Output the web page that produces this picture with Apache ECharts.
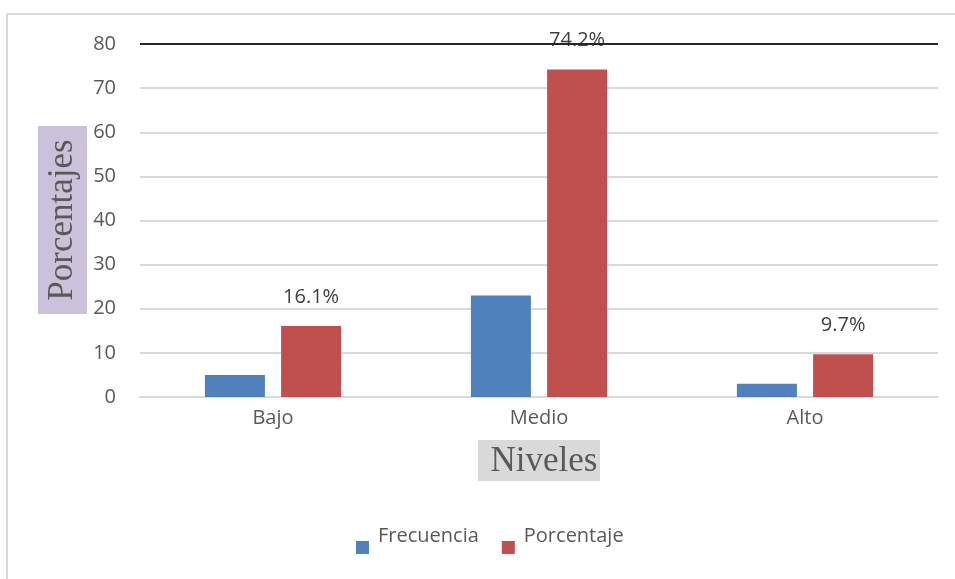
<!DOCTYPE html>
<html>
<head>
<meta charset="utf-8">
<script src="https://cdn.jsdelivr.net/npm/echarts@6/dist/echarts.min.js"></script>
<style>
html,body{margin:0;padding:0;background:#fff;}
#chart{width:955px;height:579px;}
</style>
</head>
<body>
<div id="chart"></div>
<script>
const categories = ['Bajo', 'Medio', 'Alto'];
const frecuencia = [5, 23, 3];
const porcentaje = [16.1, 74.2, 9.7];
const yTicks = { min: 0, max: 80, interval: 10 };
const seriesNames = ['Frecuencia', 'Porcentaje'];
const yTitle = 'Porcentajes';
const xTitle = 'Niveles';

const font = '"Open Sans", sans-serif';
const chart = echarts.init(document.getElementById('chart'));
chart.setOption({
  backgroundColor: '#fff',
  animation: false,
  grid: { left: 140, right: 17, top: 44, bottom: 182 },
  xAxis: {
    type: 'category',
    data: categories,
    axisTick: { show: false },
    axisLine: { lineStyle: { color: '#d9d9d9', width: 2 } },
    axisLabel: { color: '#595959', fontSize: 20, fontFamily: font, margin: 11 }
  },
  yAxis: {
    type: 'value',
    min: yTicks.min, max: yTicks.max, interval: yTicks.interval,
    axisLine: { show: false },
    axisTick: { show: false },
    axisLabel: { color: '#595959', fontSize: 20, fontFamily: font, margin: 24 },
    splitLine: { lineStyle: { width: 2, color: '#d9d9d9' } }
  },
  legend: {
    data: seriesNames,
    bottom: 20,
    left: 351,
    itemWidth: 13,
    itemHeight: 13,
    itemGap: 23,
    icon: 'rect',
    formatter: '{a|{name}}',
    textStyle: {
      color: '#595959', fontSize: 20, fontFamily: font,
      rich: { a: { color: '#595959', fontSize: 20, fontFamily: font, padding: [0, 0, 22, 4] } }
    }
  },
  series: [
    {
      name: seriesNames[0],
      type: 'bar',
      data: frecuencia,
      barWidth: 60,
      barGap: '27%',
      itemStyle: { color: '#4f81bd' }
    },
    {
      name: seriesNames[1],
      type: 'bar',
      data: porcentaje,
      barWidth: 60,
      itemStyle: { color: '#c0504d' },
      label: {
        show: true,
        position: 'top',
        distance: 19,
        color: '#404040',
        fontSize: 20,
        fontFamily: font,
        formatter: function (p) { return p.value.toFixed(1) + '%'; }
      },
      markLine: {
        silent: true,
        symbol: 'none',
        label: { show: false },
        lineStyle: { color: '#262626', width: 2, type: 'solid' },
        data: [{ yAxis: yTicks.max }]
      }
    }
  ],
  graphic: [
    { type: 'line', shape: { x1: 7, y1: 14, x2: 955, y2: 14 }, style: { stroke: '#d9d9d9', lineWidth: 2 } },
    { type: 'line', shape: { x1: 7, y1: 14, x2: 7, y2: 579 }, style: { stroke: '#d9d9d9', lineWidth: 2 } },
    { type: 'rect', shape: { x: 38, y: 126, width: 49, height: 188 }, style: { fill: '#ccc1da' } },
    {
      type: 'text', x: 63, y: 220, rotation: Math.PI / 2,
      style: { text: yTitle, fill: '#595959', font: '35px "Liberation Serif", serif', align: 'center', verticalAlign: 'middle' }
    },
    { type: 'rect', shape: { x: 478, y: 440, width: 122, height: 41 }, style: { fill: '#d9d9d9' } },
    {
      type: 'text', x: 544, y: 462,
      style: { text: xTitle, fill: '#595959', font: '35px "Liberation Serif", serif', align: 'center', verticalAlign: 'middle' }
    }
  ]
});
</script>
</body>
</html>
